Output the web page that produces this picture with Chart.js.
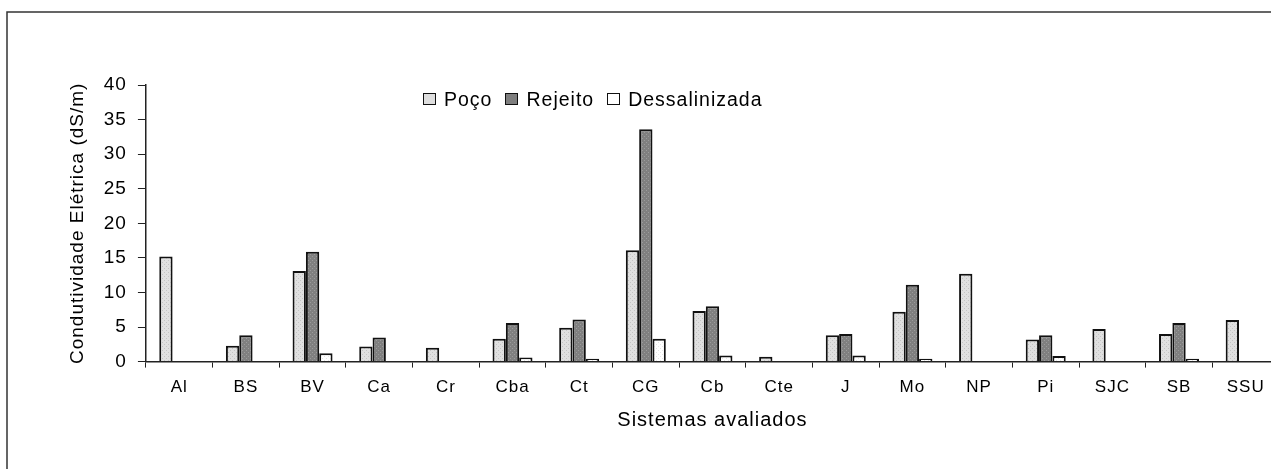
<!DOCTYPE html>
<html>
<head>
<meta charset="utf-8">
<script src="https://cdn.jsdelivr.net/npm/chart.js@4.4.1/dist/chart.umd.min.js"></script>
<style>
  html, body { margin: 0; padding: 0; background: #fff; overflow: hidden; width: 1271px; height: 469px; }
  #wrap { position: relative; width: 1271px; height: 469px; overflow: hidden; }
  #chart { position: absolute; left: 0; top: 0; }
  #legend { position: absolute; left: 423px; top: 88px; height: 22px; display: flex; align-items: center;
    font-family: "Liberation Sans", Arial, sans-serif; font-size: 19.5px; letter-spacing: 1px; line-height: 22px; color: #000; }
  #legend .item { display: flex; align-items: center; margin-right: 13px; }
  #legend .box { width: 11px; height: 10px; border: 1.5px solid #111; margin-right: 8px; }
</style>
</head>
<body>
<div id="wrap">
  <canvas id="chart" width="1290" height="469"></canvas>
  <div id="legend"></div>
</div>
<script>
/* Condutividade elétrica por sistema avaliado */
const categories = ["Al", "BS", "BV", "Ca", "Cr", "Cba", "Ct", "CG", "Cb", "Cte", "J", "Mo", "NP", "Pi", "SJC", "SB", "SSU"];
const seriesNames = ["Poço", "Rejeito", "Dessalinizada"];
const poco = [15.2, 2.3, 13.1, 2.2, 2.0, 3.3, 4.9, 16.1, 7.3, 0.7, 3.8, 7.2, 12.7, 3.2, 4.7, 4.0, 6.0];
const rejeito = [null, 3.8, 15.9, 3.5, null, 5.6, 6.1, 33.6, 8.0, null, 4.0, 11.1, null, 3.8, null, 5.6, null];
const dessalinizada = [null, null, 1.2, null, null, 0.6, 0.4, 3.3, 0.9, null, 0.9, 0.4, null, 0.8, null, 0.4, null];
const yTicks = [0, 5, 10, 15, 20, 25, 30, 35, 40];

const FONT = "'Liberation Sans', Arial, sans-serif";

function dotPattern(base, dot) {
  const c = document.createElement("canvas");
  c.width = 4;
  c.height = 4;
  const g = c.getContext("2d");
  g.fillStyle = base;
  g.fillRect(0, 0, 4, 4);
  g.fillStyle = dot;
  g.fillRect(0, 0, 1, 1);
  g.fillRect(2, 2, 1, 1);
  return g.createPattern(c, "repeat");
}

const swatch = ["#dedede", "#7e7e7e", "#ffffff"];
const fills = [
  dotPattern("#e0e0e0", "#c4c4c4"),
  dotPattern("#808080", "#9c9c9c"),
  dotPattern("#ffffff", "#e4e4e4"),
];

// legend as plain html
const legendEl = document.getElementById("legend");
seriesNames.forEach((name, i) => {
  const item = document.createElement("div");
  item.className = "item";
  item.innerHTML = `<span class="box" style="background:${swatch[i]}"></span><span>${name}</span>`;
  legendEl.appendChild(item);
});

// the original text is a bit wide, spread it a little
const spacing = {
  id: "spacing",
  beforeUpdate(chart) { chart.ctx.letterSpacing = "1px"; },
  beforeDraw(chart) { chart.ctx.letterSpacing = "1px"; },
};

const frame = {
  id: "frame",
  beforeDraw(chart) {
    const ctx = chart.ctx;
    ctx.save();
    ctx.strokeStyle = "#333";
    ctx.lineWidth = 1.5;
    ctx.strokeRect(7, 12, 3000, 3000);
    ctx.restore();
  },
};

const barStyle = { borderColor: "#111", borderWidth: 2, barPercentage: 1, categoryPercentage: 0.6 };

new Chart(document.getElementById("chart"), {
  type: "bar",
  data: {
    labels: categories,
    datasets: [
      { label: seriesNames[0], data: poco, backgroundColor: fills[0], ...barStyle },
      { label: seriesNames[1], data: rejeito, backgroundColor: fills[1], ...barStyle },
      { label: seriesNames[2], data: dessalinizada, backgroundColor: fills[2], ...barStyle },
    ],
  },
  options: {
    responsive: false,
    animation: false,
    layout: { padding: { left: 66, top: 85, right: 11, bottom: 37 } },
    plugins: { legend: { display: false }, tooltip: { enabled: false } },
    scales: {
      x: {
        grid: { display: true, offset: true, drawOnChartArea: false, tickLength: 6, color: "#222", lineWidth: 1 },
        border: { color: "#222", width: 1.5 },
        ticks: { color: "#000", font: { family: FONT, size: 17 }, padding: 10, maxRotation: 0, autoSkip: false },
        title: { display: true, text: "Sistemas avaliados", color: "#000", font: { family: FONT, size: 20 }, padding: { top: 0, bottom: 0 } },
      },
      y: {
        min: 0,
        max: 40,
        afterBuildTicks: (axis) => { axis.ticks = yTicks.map((v) => ({ value: v })); },
        grid: { display: true, drawOnChartArea: false, tickLength: 8, color: "#222", lineWidth: 1 },
        border: { color: "#222", width: 1.5 },
        ticks: { color: "#000", font: { family: FONT, size: 19 }, padding: 11 },
        title: { display: true, text: "Condutividade Elétrica (dS/m)", color: "#000", font: { family: FONT, size: 19 }, padding: { top: 0, bottom: 4 } },
      },
    },
  },
  plugins: [spacing, frame],
});
</script>
</body>
</html>
